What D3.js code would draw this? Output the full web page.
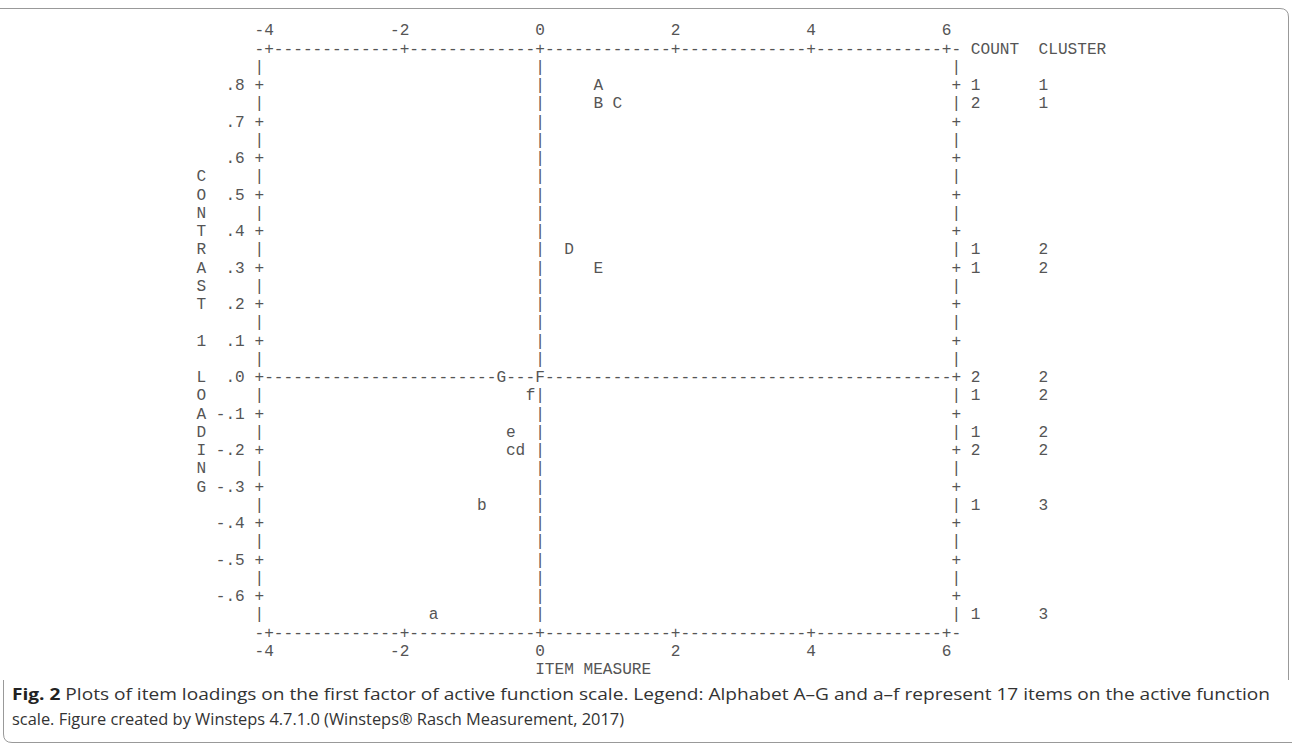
<!DOCTYPE html>
<html>
<head>
<meta charset="utf-8">
<script src="https://cdn.jsdelivr.net/npm/d3@7"></script>
<style>
  body { margin: 0; background: #fff; }
  .grid text { font-family: "Liberation Mono", monospace; font-size: 16.13px; fill: #555; }
  .caption { font-family: "Open Sans", sans-serif; font-size: 16px; fill: #333; }
</style>
</head>
<body>
<svg id="chart" width="1292" height="745"></svg>
<script>
// items (measure, contrast loading, cluster)
const itemLabels   = ["A", "B", "C", "D", "E", "F", "G", "f", "e", "c", "d", "b", "a"];
const itemMeasures = [0.86, 0.86, 1.14, 0.43, 0.86, 0.00, -0.57, -0.14, -0.43, -0.43, -0.29, -0.86, -1.57];
const itemLoadings = [0.80, 0.75, 0.75, 0.35, 0.30, 0.00, 0.00, -0.05, -0.15, -0.20, -0.20, -0.35, -0.65];
const itemClusters = [1, 1, 1, 2, 2, 2, 2, 2, 2, 2, 2, 3, 3];

const xTicks = [-4, -2, 0, 2, 4, 6];
const xTickLabels = ["-4", "-2", "0", "2", "4", "6"];
const yTicks = [0.8, 0.7, 0.6, 0.5, 0.4, 0.3, 0.2, 0.1, 0.0, -0.1, -0.2, -0.3, -0.4, -0.5, -0.6];
const yTickLabels = [".8", ".7", ".6", ".5", ".4", ".3", ".2", ".1", ".0", "-.1", "-.2", "-.3", "-.4", "-.5", "-.6"];
const yTitle = "CONTRAST 1 LOADING";   // one letter per half row, starting at .55
const yTitleStart = 0.55;
const xTitle = "ITEM MEASURE";
const rightHeaders = ["COUNT", "CLUSTER"];

const items = itemLabels.map((l, i) => ({
    label: l, measure: itemMeasures[i], loading: itemLoadings[i], cluster: itemClusters[i]
}));

// character grid of the text plot
const charW = 9.68;
const rowH = 18.25;
const halfStep = 0.05;   // one text row = half a tick step

const x = d3.scaleLinear().domain([-4, 6]).range([269, 269 + 70 * charW]);
const y = d3.scaleLinear().domain([0.8, -0.6]).range([84.5, 84.5 + 28 * rowH]);

const svg = d3.select("#chart");
const g = svg.append("g").attr("class", "grid");

const xLeft = x(-4) - charW, xRight = x(6) + charW;
const yTop = y(0.8 + 2 * halfStep), yBottom = y(-0.6 - 2 * halfStep);

function ch(px, py, c) {
    g.append("text").attr("x", px).attr("y", py).attr("dy", "0.35em")
        .attr("text-anchor", "middle").text(c);
}
const colOf = px => Math.round((px - x(0)) / charW);
const rowOf = py => Math.round((py - y(0)) / rowH);
const taken = new Set(items.map(d => colOf(x(d.measure)) + "," + rowOf(y(d.loading))));
function cell(px, py, c) {
    if (!taken.has(colOf(px) + "," + rowOf(py))) ch(px, py, c);
}

// horizontal borders and the zero line
const nCols = Math.round((xRight - xLeft) / charW);
[yTop, yBottom].forEach(py => {
    for (let i = 0; i <= nCols; i++) {
        const px = xLeft + i * charW;
        const isTick = xTicks.some(t => Math.abs(x(t) - px) < 1);
        ch(px, py, isTick ? "+" : "-");
    }
});
for (let i = 1; i < nCols; i++) {
    cell(xLeft + i * charW, y(0), "-");
}

// vertical axes: left, right and zero
const nRows = Math.round((yBottom - yTop) / rowH);
for (let j = 1; j < nRows; j++) {
    const py = yTop + j * rowH;
    const isTick = yTicks.some(t => Math.abs(y(t) - py) < 1);
    ch(xLeft, py, isTick ? "+" : "|");
    ch(xRight, py, isTick ? "+" : "|");
    cell(x(0), py, Math.abs(py - y(0)) < 1 ? "+" : "|");
}

// tick labels
[yTop - rowH, yBottom + rowH].forEach(py => {
    g.selectAll(null).data(xTicks).enter().append("text")
        .attr("x", d => x(d) + charW / 2).attr("y", py).attr("dy", "0.35em")
        .attr("text-anchor", "end")
        .text((d, i) => xTickLabels[i]);
});
g.selectAll(null).data(yTicks).enter().append("text")
    .attr("x", xLeft - 2 * charW + charW / 2).attr("y", d => y(d)).attr("dy", "0.35em")
    .attr("text-anchor", "end")
    .text((d, i) => yTickLabels[i]);

// titles
yTitle.split("").forEach((c, i) => {
    if (c !== " ") ch(xLeft - 6 * charW, y(yTitleStart - i * halfStep), c);
});
g.append("text").attr("x", x(0) - charW / 2).attr("y", yBottom + 2 * rowH).attr("dy", "0.35em")
    .text(xTitle);

// items
g.selectAll(null).data(items).enter().append("text")
    .attr("x", d => x(d.measure)).attr("y", d => y(d.loading)).attr("dy", "0.35em")
    .attr("text-anchor", "middle")
    .text(d => d.label);

// count / cluster columns
const countCol = xRight + 2 * charW, clusterCol = xRight + 9 * charW;
g.append("text").attr("x", countCol - charW / 2).attr("y", yTop).attr("dy", "0.35em").text(rightHeaders[0]);
g.append("text").attr("x", clusterCol - charW / 2).attr("y", yTop).attr("dy", "0.35em").text(rightHeaders[1]);
const rowsByLoading = d3.rollups(items, v => ({n: v.length, cluster: v[0].cluster}), d => d.loading);
rowsByLoading.forEach(([lo, r]) => {
    ch(countCol, y(lo), String(r.n));
    ch(clusterCol, y(lo), String(r.cluster));
});

// frame and caption
svg.append("path")
    .attr("d", "M0,8.5 H1280 Q1288.5,8.5 1288.5,17 V680 M3.5,680 V734 Q3.5,742.5 12,742.5 H1292")
    .attr("fill", "none").attr("stroke", "#999").attr("stroke-width", 1);

const cap1 = svg.append("text").attr("class", "caption").attr("x", 12).attr("y", 700)
    .attr("textLength", 1258).attr("lengthAdjust", "spacingAndGlyphs");
cap1.append("tspan").attr("font-weight", "bold").attr("fill", "#222").text("Fig. 2");
cap1.append("tspan").text(" Plots of item loadings on the first factor of active function scale. Legend: Alphabet A\u2013G and a\u2013f represent 17 items on the active function");
svg.append("text").attr("class", "caption").attr("x", 12).attr("y", 725)
    .attr("textLength", 612).attr("lengthAdjust", "spacingAndGlyphs")
    .text("scale. Figure created by Winsteps 4.7.1.0 (Winsteps\u00ae Rasch Measurement, 2017)");
</script>
</body>
</html>
